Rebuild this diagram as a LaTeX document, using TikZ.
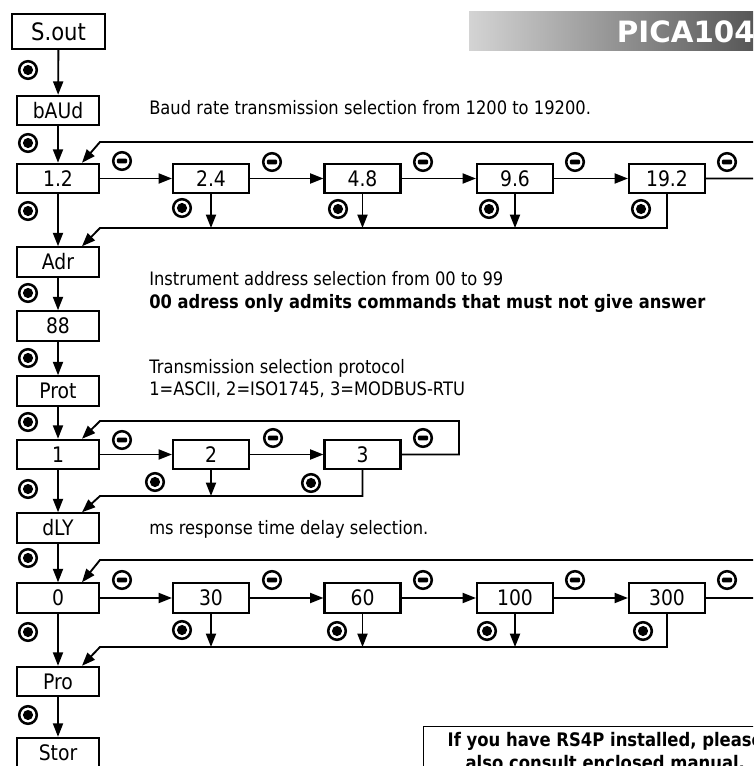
\documentclass[tikz,border=0pt]{standalone}
\usepackage{fontspec}
\setmainfont{DejaVu Sans}[FakeStretch=0.88]
\newfontfamily\bannerfont{DejaVu Sans}
\usetikzlibrary{arrows.meta,calc}
\begin{document}
\begin{tikzpicture}[x=0.75pt,y=-0.75pt,
  box/.style={draw, line width=1.6pt, minimum width=61.5pt, minimum height=22pt, inner sep=0pt, font=\fontsize{16}{19}\selectfont},
  rbox/.style={box, minimum width=57pt},
  arr/.style={line width=1.4pt, -{Triangle[length=10pt,width=7.5pt]}},
  desc/.style={anchor=base west, inner sep=0pt, font=\fontsize{13.9}{16}\selectfont},
  dotsym/.style={circle, draw, line width=1.9pt, minimum size=13.2pt, inner sep=0pt,
    path picture={\fill (path picture bounding box.center) circle (3.8pt);}},
  minussym/.style={circle, draw, line width=1.9pt, minimum size=13.2pt, inner sep=0pt,
    path picture={\fill[rounded corners=0.8pt] ([xshift=-3.8pt,yshift=-1.7pt]path picture bounding box.center) rectangle ([xshift=3.8pt,yshift=1.7pt]path picture bounding box.center);}}
]
\useasboundingbox (0,0) rectangle (753,766);
\clip (0,0) rectangle (753,766);
\fill[white] (0,0) rectangle (753,766);

% banner
\shade[left color=black!17, right color=black!66] (469,12) rectangle (753,51);
\node[anchor=base east, inner sep=0pt, text=white, font=\bannerfont\bfseries\fontsize{22}{24}\selectfont] (banner) at (755,43) {PICA104};

% left column
\node[box, minimum width=70pt, minimum height=26pt, font=\fontsize{18}{21}\selectfont] (sout) at (58.5,31.5) {S.out};
\node[box] (baud) at (58,110.5) {bAUd};
\node[box] (b12) at (58,178.5) {1.2};
\node[box] (adr) at (58,262) {Adr};
\node[box] (a88) at (58,326) {88};
\node[box] (prot) at (58,391) {Prot};
\node[box] (p1) at (58,454.5) {1};
\node[box] (dly) at (58,528) {dLY};
\node[box] (d0) at (58,598) {0};
\node[box] (pro) at (58,681.5) {Pro};
\node[box] (stor) at (58,752.5) {Stor};

% row 1
\node[rbox] (b24) at (211,178.5) {2.4};
\node[rbox] (b48) at (362.5,178.5) {4.8};
\node[rbox] (b96) at (515,178.5) {9.6};
\node[rbox] (b192) at (667,178.5) {19.2};
% row 2
\node[rbox] (p2) at (211,454.5) {2};
\node[rbox] (p3) at (362.5,454.5) {3};
% row 3
\node[rbox] (d30) at (211,598) {30};
\node[rbox] (d60) at (362.5,598) {60};
\node[rbox] (d100) at (515,598) {100};
\node[rbox] (d300) at (667,598) {300};

% descriptions
\node[desc] (t1) at (149,115) {Baud rate transmission selection from 1200 to 19200.};
\node[desc] (t2) at (149,286) {Instrument address selection from 00 to 99};
\node[desc, font=\fontsize{13.9}{16}\selectfont\bfseries] (t3) at (149,308) {00 adress only admits commands that must not give answer};
\node[desc] (t4) at (149,373) {Transmission selection protocol};
\node[desc] (t5) at (149,395.5) {1=ASCII, 2=ISO1745, 3=MODBUS-RTU};
\node[desc] (t6) at (149,534) {ms response time delay selection.};

% note
\node[draw, line width=1.1pt, anchor=north west, inner xsep=18pt, inner ysep=4.5pt, align=center,
  font=\fontsize{14}{17}\selectfont\bfseries] (note) at (423,726) {If you have RS4P installed, please\\also consult enclosed manual.};

% coordinates
\coordinate (y1t) at (0,142); \coordinate (y1b) at (0,228);
\coordinate (y2t) at (0,421); \coordinate (y2b) at (0,496);
\coordinate (y3t) at (0,560); \coordinate (y3b) at (0,647);
\coordinate (far) at (790,0);
\coordinate (loop2) at (459,0);

% vertical chain
\draw[arr] (sout) -- (baud);
\draw[arr] (baud) -- (b12);
\draw[arr] (b12) -- (adr);
\draw[arr] (adr) -- (a88);
\draw[arr] (a88) -- (prot);
\draw[arr] (prot) -- (p1);
\draw[arr] (p1) -- (dly);
\draw[arr] (dly) -- (d0);
\draw[arr] (d0) -- (pro);
\draw[arr] (pro) -- (stor);

% row 1 connectors
\draw[arr] (b12) -- (b24);
\draw[arr] (b24) -- (b48);
\draw[arr] (b48) -- (b96);
\draw[arr] (b96) -- (b192);
\draw[arr] (b192.east) -| (far |- y1t) -- (100,142) -- ($(b12.north)+(24,0)$);
\draw[arr] (b192.south) |- (100,228) -- ($(adr.north)+(24,0)$);
\draw[arr] (b24.south) -- (b24.south |- y1b);
\draw[arr] (b48.south) -- (b48.south |- y1b);
\draw[arr] (b96.south) -- (b96.south |- y1b);

% row 2 connectors
\draw[arr] (p1) -- (p2);
\draw[arr] (p2) -- (p3);
\draw[arr] (p3.east) -| (loop2 |- y2t) -- (100,421) -- ($(p1.north)+(24,0)$);
\draw[arr] (p3.south) |- (100,496) -- ($(dly.north)+(24,0)$);
\draw[arr] (p2.south) -- (p2.south |- y2b);

% row 3 connectors
\draw[arr] (d0) -- (d30);
\draw[arr] (d30) -- (d60);
\draw[arr] (d60) -- (d100);
\draw[arr] (d100) -- (d300);
\draw[arr] (d300.east) -| (far |- y3t) -- (100,560) -- ($(d0.north)+(24,0)$);
\draw[arr] (d300.south) |- (100,647) -- ($(pro.north)+(24,0)$);
\draw[arr] (d30.south) -- (d30.south |- y3b);
\draw[arr] (d60.south) -- (d60.south |- y3b);
\draw[arr] (d100.south) -- (d100.south |- y3b);

% key symbols
\foreach \yy [count=\i] in {70,143,211,293,358,422,489,558,632,715}
  \node[dotsym] (ld\i) at (28,\yy) {};
\foreach \xx/\yy [count=\i] in {182/208,338/209,489/209,641/209,155/482,311/483,182/630,337/631,487/631,643/631}
  \node[dotsym] (rd\i) at (\xx,\yy) {};
\foreach \xx/\yy [count=\i] in {122/161,272/162,423/162,575/162,727/162,122/440,273/438,423/438,122/580,272/580,423/580,575/580,727/580}
  \node[minussym] (ms\i) at (\xx,\yy) {};
\end{tikzpicture}
\end{document}
